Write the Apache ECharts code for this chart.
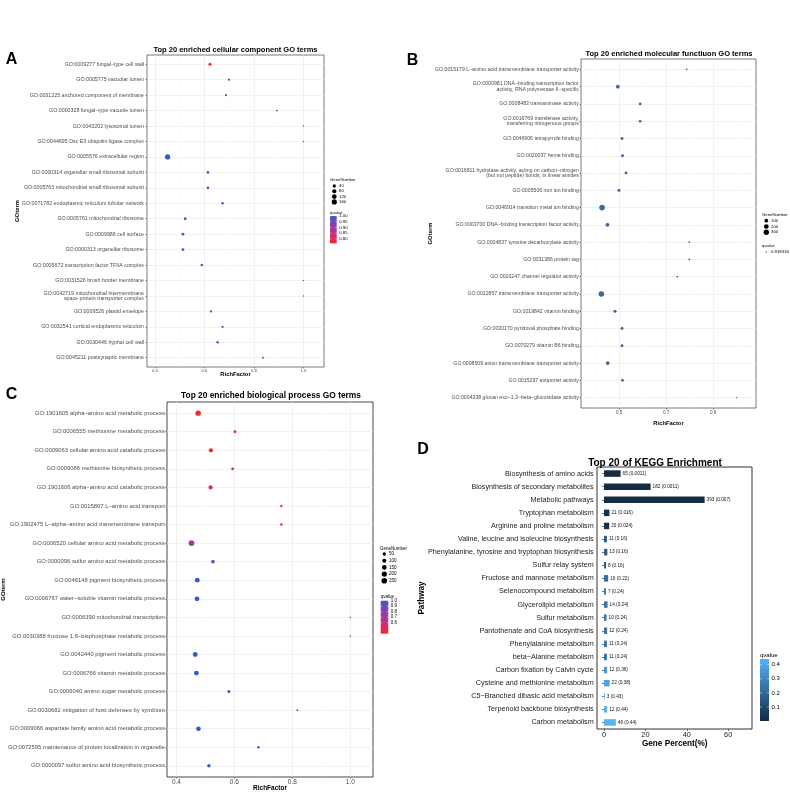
<!DOCTYPE html>
<html lang="en">
<head>
<meta charset="UTF-8" />
<title>GO / KEGG enrichment</title>
<script src="https://cdn.jsdelivr.net/npm/echarts@6.0.0/dist/echarts.min.js"></script>
<style>
  html, body { margin: 0; padding: 0; background: #fff; }
  #main { width: 790px; height: 792px; }
</style>
</head>
<body>
<div id="main"></div>
<script>
const FONT = '"Liberation Sans", Arial, Helvetica, sans-serif'

// A: cellular component
const ccTerms = [
  'GO:0009277 fungal−type cell wall',
  'GO:0005775 vacuolar lumen',
  'GO:0031225 anchored component of membrane',
  'GO:0000328 fungal−type vacuole lumen',
  'GO:0043202 lysosomal lumen',
  'GO:0044695 Dsc E3 ubiquitin ligase complex',
  'GO:0005576 extracellular region',
  'GO:0000314 organellar small ribosomal subunit',
  'GO:0005763 mitochondrial small ribosomal subunit',
  'GO:0071782 endoplasmic reticulum tubular network',
  'GO:0005761 mitochondrial ribosome',
  'GO:0009986 cell surface',
  'GO:0000313 organellar ribosome',
  'GO:0005672 transcription factor TFIIA complex',
  'GO:0031526 brush border membrane',
  'GO:0042719 mitochondrial intermembrane\nspace protein transporter complex',
  'GO:0009526 plastid envelope',
  'GO:0032541 cortical endoplasmic reticulum',
  'GO:0030446 hyphal cell wall',
  'GO:0045211 postsynaptic membrane'
]
const ccRich = [0.622, 0.699, 0.687, 0.893, 1.0, 1.0, 0.451, 0.614, 0.614, 0.673,
  0.522, 0.513, 0.513, 0.589, 1.0, 1.0, 0.626, 0.673, 0.653, 0.836]
const ccGenes = [36, 10, 11, 5, 2, 2, 160, 20, 20, 12, 24, 22, 22, 16, 2, 2, 10, 10, 12, 4]
const ccQ = [0.762, 0.88, 0.88, 0.89, 1, 1, 1, 1, 1, 1, 1, 1, 1, 1, 1, 1, 1, 1, 1, 1]
const ccXTicks = [0.4, 0.6, 0.8, 1.0]
const ccXMinor = [0.5, 0.7, 0.9]
const ccSizeTicks = [40, 80, 120, 160]
const ccQTicks = [1.0, 0.95, 0.9, 0.85, 0.8]

// B: molecular function
const mfTerms = [
  'GO:0015179 L−amino acid transmembrane transporter activity',
  'GO:0000981 DNA−binding transcription factor\nactivity, RNA polymerase II−specific',
  'GO:0008483 transaminase activity',
  'GO:0016769 transferase activity,\ntransferring nitrogenous groups',
  'GO:0046906 tetrapyrrole binding',
  'GO:0020037 heme binding',
  'GO:0016811 hydrolase activity, acting on carbon−nitrogen\n(but not peptide) bonds, in linear amides',
  'GO:0005506 iron ion binding',
  'GO:0046914 transition metal ion binding',
  'GO:0003700 DNA−binding transcription factor activity',
  'GO:0004837 tyrosine decarboxylase activity',
  'GO:0031386 protein tag',
  'GO:0016247 channel regulator activity',
  'GO:0022857 transmembrane transporter activity',
  'GO:0019842 vitamin binding',
  'GO:0030170 pyridoxal phosphate binding',
  'GO:0070279 vitamin B6 binding',
  'GO:0008509 anion transmembrane transporter activity',
  'GO:0015297 antiporter activity',
  'GO:0004338 glucan exo−1,3−beta−glucosidase activity'
]
const mfRich = [0.787, 0.494, 0.589, 0.589, 0.512, 0.514, 0.529, 0.499, 0.427, 0.45,
  0.798, 0.798, 0.747, 0.424, 0.482, 0.512, 0.512, 0.451, 0.514, 1.0]
const mfGenes = [5, 110, 30, 30, 45, 45, 40, 50, 330, 120, 4, 4, 5, 320, 60, 45, 45, 110, 45, 2]
const mfQ = 0.918334
const mfXTicks = [0.5, 0.7, 0.9]
const mfXMinor = [0.4, 0.6, 0.8, 1.0]
const mfSizeTicks = [100, 200, 300]

// C: biological process
const bpTerms = [
  'GO:1901605 alpha−amino acid metabolic process',
  'GO:0006555 methionine metabolic process',
  'GO:0009063 cellular amino acid catabolic process',
  'GO:0009086 methionine biosynthetic process',
  'GO:1901606 alpha−amino acid catabolic process',
  'GO:0015807 L−amino acid transport',
  'GO:1902475 L−alpha−amino acid transmembrane transport',
  'GO:0006520 cellular amino acid metabolic process',
  'GO:0000096 sulfur amino acid metabolic process',
  'GO:0046148 pigment biosynthetic process',
  'GO:0006767 water−soluble vitamin metabolic process',
  'GO:0006390 mitochondrial transcription',
  'GO:0030388 fructose 1,6−bisphosphate metabolic process',
  'GO:0042440 pigment metabolic process',
  'GO:0006766 vitamin metabolic process',
  'GO:0006040 amino sugar metabolic process',
  'GO:0030682 mitigation of host defenses by symbiont',
  'GO:0009066 aspartate family amino acid metabolic process',
  'GO:0072595 maintenance of protein localization in organelle',
  'GO:0000097 sulfur amino acid biosynthetic process'
]
const bpRich = [0.475, 0.602, 0.519, 0.594, 0.518, 0.762, 0.762, 0.452, 0.526, 0.472,
  0.471, 1.0, 1.0, 0.465, 0.469, 0.581, 0.817, 0.476, 0.683, 0.512]
const bpGenes = [230, 30, 110, 30, 110, 15, 15, 270, 70, 160, 160, 2, 2, 165, 160, 35, 4, 150, 15, 60]
const bpQ = [0.40, 0.42, 0.42, 0.49, 0.49, 0.50, 0.50, 0.73, 0.85, 1, 1, 1, 1, 1, 1, 1, 1, 1, 1, 1]
const bpXTicks = [0.4, 0.6, 0.8, 1.0]
const bpXMinor = [0.5, 0.7, 0.9]
const bpSizeTicks = [50, 100, 150, 200, 250]
const bpQTicks = [1.0, 0.9, 0.8, 0.7, 0.6]

// D: KEGG
const keggPathways = [
  'Biosynthesis of amino acids', 'Biosynthesis of secondary metabolites', 'Metabolic pathways',
  'Tryptophan metabolism', 'Arginine and proline metabolism',
  'Valine, leucine and isoleucine biosynthesis', 'Phenylalanine, tyrosine and tryptophan biosynthesis',
  'Sulfur relay system', 'Fructose and mannose metabolism', 'Selenocompound metabolism',
  'Glycerolipid metabolism', 'Sulfur metabolism', 'Pantothenate and CoA biosynthesis',
  'Phenylalanine metabolism', 'beta−Alanine metabolism', 'Carbon fixation by Calvin cycle',
  'Cysteine and methionine metabolism', 'C5−Branched dibasic acid metabolism',
  'Terpenoid backbone biosynthesis', 'Carbon metabolism'
]
const keggPercent = [8.0, 22.5, 48.6, 2.6, 2.5, 1.4, 1.6, 1.0, 2.0, 0.9,
  1.7, 1.2, 1.5, 1.4, 1.4, 1.5, 2.7, 0.4, 1.5, 5.7]
const keggCounts = [65, 182, 393, 21, 20, 11, 13, 8, 16, 7, 14, 10, 12, 11, 11, 12, 22, 3, 12, 46]
const keggQ = [0.0011, 0.0011, 0.007, 0.016, 0.024, 0.16, 0.16, 0.16, 0.22, 0.24,
  0.24, 0.24, 0.24, 0.24, 0.24, 0.36, 0.38, 0.43, 0.44, 0.44]
const keggXTicks = [0, 20, 40, 60]
const keggQTicks = [0.4, 0.3, 0.2, 0.1]

const redBlue = ['#EE2C2C', '#D62A6B', '#A8389A', '#7447B2', '#3A5BC4']
const keggBlues = ['#132B43', '#56B1F7']
const mfColor = '#3A69A3'

const rows = ccTerms.map((t, i) => i + 1)

// ggplot-like area scale: diameter grows with sqrt of the rescaled value
function sizer(vmin, vmax, dmin, dmax) {
  return v => dmin + (dmax - dmin) * Math.sqrt(Math.max(0, v - vmin) / (vmax - vmin))
}
const ccSize = sizer(2, 160, 1.4, 5.2)
const mfSize = sizer(2, 330, 1.4, 5.6)
const bpSize = sizer(2, 270, 1.5, 5.8)

function termAxis(grid, terms, fs, lh, margin) {
  return {
    type: 'value', gridIndex: grid, min: 0.4, max: terms.length + 0.6, inverse: true,
    axisLine: { show: false },
    axisTick: { show: true, length: 1.5, customValues: rows, lineStyle: { color: '#333', width: 0.6 } },
    axisLabel: {
      customValues: rows, formatter: v => terms[v - 1], fontSize: fs, lineHeight: lh,
      color: '#4D4D4D', fontFamily: FONT, margin: margin
    },
    splitLine: { show: true, lineStyle: { color: '#EBEBEB', width: 0.7 } }
  }
}
function richAxis(grid, min, max, ticks, fs, margin) {
  return {
    type: 'value', gridIndex: grid, min, max, position: 'bottom',
    axisLine: { show: false },
    axisTick: { show: true, length: 1.5, customValues: ticks, lineStyle: { color: '#333', width: 0.6 } },
    axisLabel: { customValues: ticks, fontSize: fs, color: '#4D4D4D', fontFamily: FONT, margin,
      formatter: v => v.toFixed(1) },
    splitLine: { show: true, lineStyle: { color: '#EBEBEB', width: 0.7 } }
  }
}
function minorAxis(grid, min, max, ticks) {
  return {
    type: 'value', gridIndex: grid, min, max, position: 'top',
    axisLine: { show: false }, axisLabel: { show: false },
    axisTick: { show: false, customValues: ticks },
    splitLine: { show: true, lineStyle: { color: '#F2F2F2', width: 0.4 } }
  }
}

const els = []
function txt(x, y, s, fs, opt) {
  opt = opt || {}
  els.push({
    type: 'text', x, y, rotation: opt.rot || 0, silent: true,
    style: {
      text: s, fill: opt.color || '#000', fontSize: fs, fontWeight: opt.bold ? 'bold' : 'normal',
      fontFamily: FONT, align: opt.align || 'left', verticalAlign: 'middle'
    }
  })
}
function sizeLegend(x, y, gap, title, ticks, sizeFn, color, fs) {
  txt(x, y, title, fs)
  ticks.forEach((v, i) => {
    const cy = y + 5.7 + i * gap
    els.push({ type: 'circle', silent: true, shape: { cx: x + 4.3, cy, r: sizeFn(v) / 2 }, style: { fill: color } })
    txt(x + 9, cy, String(v), fs)
  })
}
function colorbar(x, y, w, h, colors, min, max, ticks, digits, fs, title) {
  txt(x, y - 3.5, title, fs)
  const n = colors.length - 1
  const stops = colors.map((c, i) => ({ offset: 1 - i / n, color: c })).reverse()
  els.push({ type: 'rect', silent: true, shape: { x, y, width: w, height: h },
    style: { fill: new echarts.graphic.LinearGradient(0, 0, 0, 1, stops) } })
  ticks.forEach(t => {
    const ty = y + (max - t) / (max - min) * h
    els.push({ type: 'line', silent: true, shape: { x1: x, y1: ty, x2: x + w * 0.2, y2: ty }, style: { stroke: '#fff', lineWidth: 0.5 } })
    els.push({ type: 'line', silent: true, shape: { x1: x + w * 0.8, y1: ty, x2: x + w, y2: ty }, style: { stroke: '#fff', lineWidth: 0.5 } })
    txt(x + w + 2.5, ty, t.toFixed(digits), fs)
  })
}

// titles, panel letters, axis titles
txt(11.5, 60, 'A', 16, { bold: true, align: 'center' })
txt(412.5, 60.5, 'B', 16, { bold: true, align: 'center' })
txt(11.5, 394.5, 'C', 16, { bold: true, align: 'center' })
txt(423, 450, 'D', 16, { bold: true, align: 'center' })
txt(235.5, 49.5, 'Top 20 enriched cellular component GO terms', 7.5, { bold: true, align: 'center' })
txt(669, 54, 'Top 20 enriched molecular functiuon GO terms', 7.5, { bold: true, align: 'center' })
txt(271, 396, 'Top 20 enriched biological process GO terms', 8.4, { bold: true, align: 'center' })
txt(655, 463, 'Top 20 of KEGG Enrichment', 10, { bold: true, align: 'center' })
txt(17, 211, 'GOterm', 5.9, { bold: true, align: 'center', rot: Math.PI / 2 })
txt(235.5, 374.7, 'RichFactor', 5.8, { bold: true, align: 'center' })
txt(430.3, 233.5, 'GOterm', 5.9, { bold: true, align: 'center', rot: Math.PI / 2 })
txt(668.5, 423, 'RichFactor', 5.8, { bold: true, align: 'center' })
txt(3.8, 589.5, 'GOterm', 6, { bold: true, align: 'center', rot: Math.PI / 2 })
txt(270, 788.3, 'RichFactor', 6.5, { bold: true, align: 'center' })
txt(421.7, 598, 'Pathway', 8.2, { bold: true, align: 'center', rot: Math.PI / 2 })
txt(674.7, 744, 'Gene Percent(%)', 8.2, { bold: true, align: 'center' })

// legends
sizeLegend(330, 180.3, 5.3, 'GeneNumber', ccSizeTicks, ccSize, '#000', 4.3)
colorbar(330, 216, 6.7, 27.3, redBlue, 0.762, 1.0, ccQTicks, 2, 4.3, 'qvalue')
sizeLegend(762, 215, 5.8, 'GeneNumber', mfSizeTicks, mfSize, '#000', 4.3)
txt(762, 246, 'qvalue', 4.3)
els.push({ type: 'circle', silent: true, shape: { cx: 766.3, cy: 252, r: 0.8 }, style: { fill: mfColor } })
txt(771, 252, String(mfQ), 4.3)
sizeLegend(380, 548.3, 6.7, 'GeneNumber', bpSizeTicks, bpSize, '#000', 4.5)
colorbar(380.7, 600.7, 7.6, 33, redBlue, 0.40, 1.0, bpQTicks, 1, 4.5, 'qvalue')
colorbar(760, 659, 9, 62, keggBlues, 0.0011, 0.44, keggQTicks, 1, 6, 'qvalue')

const myChart = echarts.init(document.getElementById('main'))
const option = {
  animation: false,
  backgroundColor: '#fff',
  textStyle: { fontFamily: FONT },
  grid: [
    { left: 147, top: 55, width: 177, height: 312, show: true, borderColor: '#555', borderWidth: 0.8, containLabel: false, outerBoundsMode: 'none' },
    { left: 581, top: 59, width: 175, height: 349, show: true, borderColor: '#555', borderWidth: 0.8, containLabel: false, outerBoundsMode: 'none' },
    { left: 167, top: 402, width: 206, height: 375, show: true, borderColor: '#333', borderWidth: 0.9, containLabel: false, outerBoundsMode: 'none' },
    { left: 597, top: 467, width: 155, height: 262, show: true, borderColor: '#333', borderWidth: 1, containLabel: false, outerBoundsMode: 'none' }
  ],
  xAxis: [
    richAxis(0, 0.3677, 1.0828, ccXTicks, 4.2, 1.7),
    minorAxis(0, 0.3677, 1.0828, ccXMinor),
    richAxis(1, 0.3374, 1.0821, mfXTicks, 4.6, 2),
    minorAxis(1, 0.3374, 1.0821, mfXMinor),
    richAxis(2, 0.3676, 1.078, bpXTicks, 6.5, 2.2),
    minorAxis(2, 0.3676, 1.078, bpXMinor),
    {
      type: 'value', gridIndex: 3, min: -3.4, max: 71.5,
      axisLine: { show: false },
      axisTick: { show: true, length: 2, customValues: keggXTicks, lineStyle: { color: '#333', width: 0.7 } },
      axisLabel: { customValues: keggXTicks, fontSize: 7.4, color: '#1A1A1A', fontFamily: FONT, margin: 2.5 },
      splitLine: { show: false }
    }
  ],
  yAxis: [
    termAxis(0, ccTerms, 5.3, 5.6, 3),
    termAxis(1, mfTerms, 5.2, 5.2, 2.2),
    termAxis(2, bpTerms, 5.85, 6, 2.2),
    {
      type: 'category', gridIndex: 3, data: keggPathways, inverse: true,
      axisLine: { show: false },
      axisTick: { show: true, alignWithLabel: true, length: 2, lineStyle: { color: '#333', width: 0.7 } },
      axisLabel: { fontSize: 7.2, color: '#1A1A1A', fontFamily: FONT, margin: 3.3, interval: 0 },
      splitLine: { show: false }
    }
  ],
  visualMap: [
    { type: 'continuous', show: false, seriesIndex: 0, dimension: 3, min: 0.762, max: 1.0, inRange: { color: redBlue } },
    { type: 'continuous', show: false, seriesIndex: 2, dimension: 3, min: 0.40, max: 1.0, inRange: { color: redBlue } },
    { type: 'continuous', show: false, seriesIndex: 3, dimension: 2, min: 0.0011, max: 0.44, inRange: { color: keggBlues } }
  ],
  series: [
    {
      name: 'cellular component', type: 'scatter', xAxisIndex: 0, yAxisIndex: 0,
      data: ccTerms.map((t, i) => [ccRich[i], i + 1, ccGenes[i], ccQ[i]]),
      symbolSize: v => ccSize(v[2]), itemStyle: { opacity: 1 }
    },
    {
      name: 'molecular function', type: 'scatter', xAxisIndex: 2, yAxisIndex: 1,
      data: mfTerms.map((t, i) => [mfRich[i], i + 1, mfGenes[i], mfQ]),
      symbolSize: v => mfSize(v[2]), itemStyle: { color: mfColor, opacity: 1 }
    },
    {
      name: 'biological process', type: 'scatter', xAxisIndex: 4, yAxisIndex: 2,
      data: bpTerms.map((t, i) => [bpRich[i], i + 1, bpGenes[i], bpQ[i]]),
      symbolSize: v => bpSize(v[2]), itemStyle: { opacity: 1 }
    },
    {
      name: 'KEGG', type: 'bar', xAxisIndex: 6, yAxisIndex: 3,
      encode: { x: 0, y: 1 },
      data: keggPathways.map((p, i) => [keggPercent[i], p, keggQ[i]]),
      barWidth: 6.5,
      label: {
        show: true, position: 'right', distance: 2, fontSize: 4.7, color: '#111', fontFamily: FONT,
        formatter: p => keggCounts[p.dataIndex] + ' (' + keggQ[p.dataIndex] + ')'
      }
    }
  ],
  graphic: { elements: els }
}
myChart.setOption(option)
</script>
</body>
</html>
